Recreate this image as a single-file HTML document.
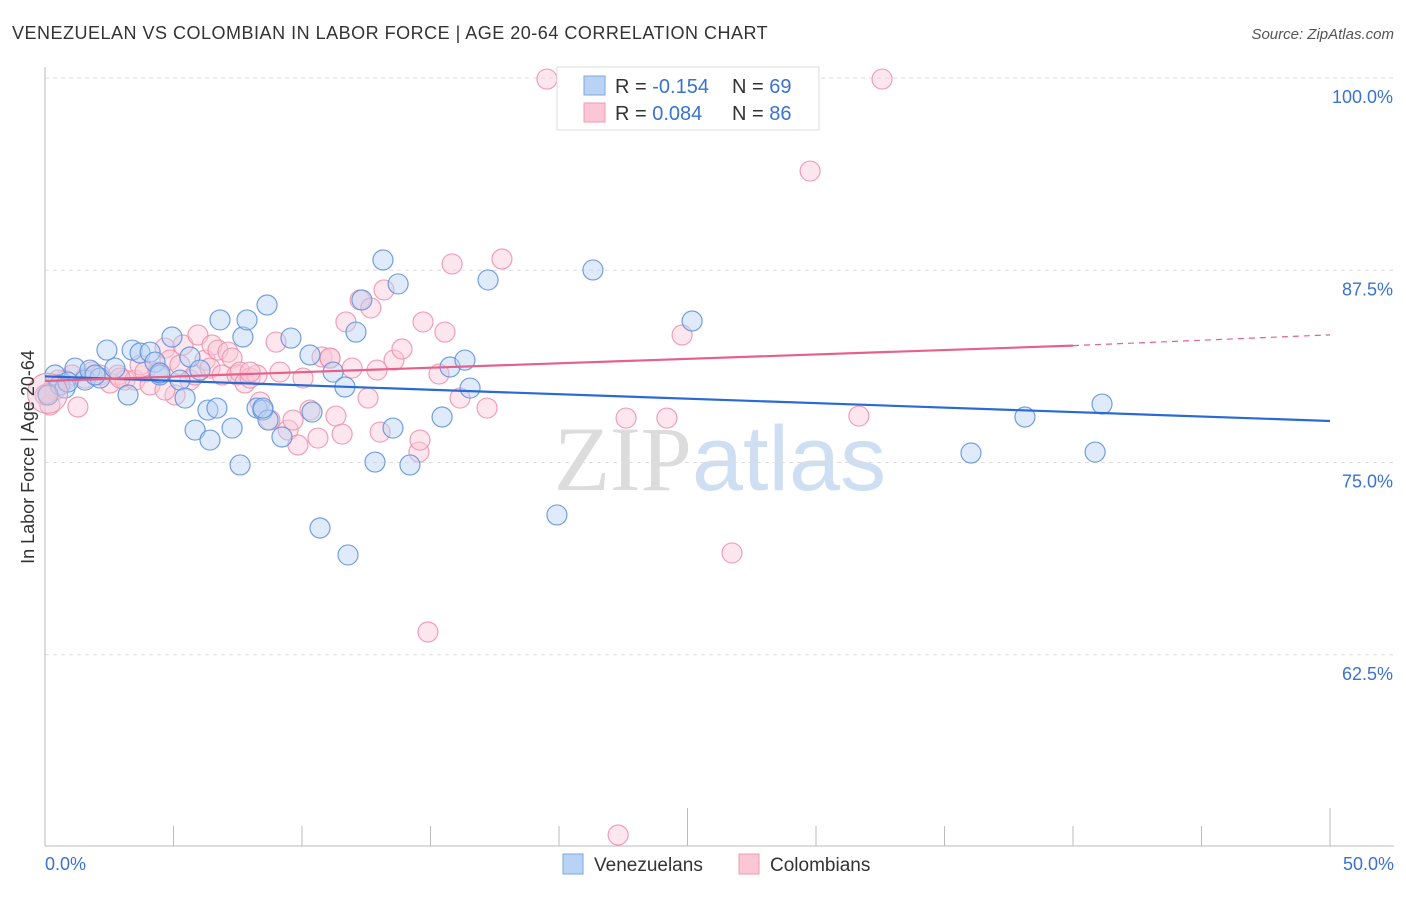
<!DOCTYPE html>
<html><head><meta charset="utf-8">
<style>
body{margin:0;background:#fff;font-family:"Liberation Sans",sans-serif;}
svg text{font-family:"Liberation Sans",sans-serif;}
</style></head>
<body>
<svg id="chart" width="1406" height="892" xmlns="http://www.w3.org/2000/svg">
<text x="12" y="39" font-size="18" fill="#333" letter-spacing="0.5">VENEZUELAN VS COLOMBIAN IN LABOR FORCE | AGE 20-64 CORRELATION CHART</text>
<text x="1394" y="39" font-size="15" fill="#555" text-anchor="end" font-style="italic">Source: ZipAtlas.com</text>
<text x="720" y="490" font-size="92" text-anchor="middle"><tspan fill="#dcdcdc" font-family="Liberation Serif,serif">ZIP</tspan><tspan fill="#cfdff3">atlas</tspan></text>
<g id="grid"></g>
<g id="axes"></g>
<g id="pts"></g>
<g id="trend"></g>
<text transform="translate(34,457) rotate(-90)" font-size="18" fill="#333" text-anchor="middle">In Labor Force | Age 20-64</text>
<g>
<rect x="557" y="67" width="262" height="63" fill="#fff" stroke="#ddd"/>
<rect x="584" y="76" width="21" height="19" fill="#b9d3f4" stroke="#7aa7e6"/>
<text x="615" y="93" font-size="20" fill="#333">R = <tspan fill="#3a72d0">-0.154</tspan></text>
<text x="732" y="93" font-size="20" fill="#333">N = <tspan fill="#3a72d0">69</tspan></text>
<rect x="584" y="103" width="21" height="19" fill="#fbc7d6" stroke="#f09ab4"/>
<text x="615" y="120" font-size="20" fill="#333">R = <tspan fill="#3a72d0"> 0.084</tspan></text>
<text x="732" y="120" font-size="20" fill="#333">N = <tspan fill="#3a72d0">86</tspan></text>
</g>
<g>
<rect x="563" y="854" width="20" height="20" fill="#b9d3f4" stroke="#7aa7e6"/>
<text x="594" y="871" font-size="19" fill="#333">Venezuelans</text>
<rect x="739" y="854" width="20" height="20" fill="#fbc7d6" stroke="#f09ab4"/>
<text x="770" y="871" font-size="19" fill="#333">Colombians</text>
</g>
</svg>
<script>
const xTicks=[0,5,10,15,20,25,30,35,40,45,50];
const yTicks=[100,87.5,75,62.5];
const yTickLabels=["100.0%","87.5%","75.0%","62.5%"];
const venX=[0.39,0.58,0.78,1.17,1.56,1.75,2.14,2.41,2.72,3.23,3.39,3.70,4.09,4.28,4.47,4.94,5.25,5.45,5.64,5.84,6.03,6.34,6.42,6.69,6.81,7.28,7.59,7.70,7.86,8.25,8.48,8.64,8.68,9.22,9.57,10.31,10.39,10.70,11.21,11.67,11.79,12.10,12.33,12.84,13.15,13.54,13.74,14.20,15.45,15.76,16.34,16.54,17.24,19.92,21.32,25.18,36.03,38.13,40.86,41.13,0.12,0.89,1.95,4.47,8.48];
const venY=[80.69,80.04,79.84,81.14,80.36,81.01,80.49,82.31,81.14,79.39,82.31,82.12,82.18,81.53,80.69,83.16,80.36,79.19,81.86,77.11,81.01,78.41,76.46,78.54,84.27,77.24,74.84,83.16,84.27,78.54,78.41,85.24,77.76,76.66,83.09,81.99,78.28,70.74,80.88,79.91,68.99,83.48,85.57,75.03,88.17,77.24,86.61,74.84,77.96,81.21,81.66,79.84,86.87,71.59,87.52,84.20,75.62,77.96,75.68,78.80,79.39,80.23,80.69,80.82,78.54];
const colX=[0.19,0.39,0.78,1.05,1.28,1.56,1.83,2.14,2.53,2.84,3.11,3.50,3.70,3.89,4.09,4.40,4.67,4.86,5.06,5.25,5.37,5.64,5.84,5.95,6.23,6.42,6.50,6.73,6.89,7.12,7.28,7.47,7.59,7.78,7.98,8.25,8.37,8.75,8.99,9.14,9.46,9.65,9.84,10.04,10.31,10.62,10.78,11.09,11.32,11.56,11.71,11.95,12.26,12.57,12.68,12.92,13.04,13.19,13.58,13.89,14.55,14.71,14.90,15.33,15.56,15.84,16.15,17.20,17.78,19.53,22.30,22.61,24.20,24.79,26.73,29.77,31.67,32.57,0.0,0.51,2.92,4.67,7.98,11.09,14.59,0.1];
const colY=[78.74,79.71,80.36,80.69,78.61,80.49,80.88,80.69,80.17,80.69,80.36,80.36,81.34,80.88,80.04,80.88,82.44,81.66,79.39,81.34,82.64,80.36,80.69,83.29,81.66,81.14,82.64,82.31,80.69,82.18,81.79,80.69,80.88,80.17,80.49,80.69,78.93,77.76,82.83,80.88,77.11,77.76,76.14,80.49,78.41,76.59,81.86,81.79,78.02,76.85,84.14,81.14,85.57,79.19,85.05,81.01,76.98,86.22,81.66,82.38,75.68,84.14,63.98,80.75,83.48,87.91,79.19,78.54,88.23,99.93,50.78,77.89,77.89,83.29,69.12,93.95,78.02,99.93,79.39,80.36,80.49,79.71,80.88,81.79,76.46,79.5];
const venTrend=[80.6,77.7];
const colTrend=[80.3,82.6,83.3];
const NS="http://www.w3.org/2000/svg";
const X0=45,X1=1330,Y100=78,PER=15.38;
const sx=v=>X0+(X1-X0)*v/50;
const sy=v=>Y100+(100-v)*PER;
function mk(tag,attrs,parent){const e=document.createElementNS(NS,tag);for(const k in attrs)e.setAttribute(k,attrs[k]);parent.appendChild(e);return e;}
const grid=document.getElementById('grid'),axes=document.getElementById('axes'),pts=document.getElementById('pts'),trend=document.getElementById('trend');
yTicks.forEach((t,i)=>{
 const l=mk('line',{x1:X0,x2:1394,y1:sy(t),y2:sy(t),stroke:'#ddd','stroke-dasharray':'4,4'},grid);
 
 
 const tx=mk('text',{x:1393,y:sy(t)+25,'font-size':18,fill:'#3a72d0','text-anchor':'end'},axes);
 tx.textContent=yTickLabels[i];
 
 
});
mk('line',{x1:X0,x2:X0,y1:67,y2:846,stroke:'#bbb'},axes);
mk('line',{x1:X0,x2:1394,y1:846,y2:846,stroke:'#bbb'},axes);
xTicks.forEach((t,i)=>{
 const long=(t==25||t==50);
 const l=mk('line',{x1:sx(t),x2:sx(t),y1:long?808:826,y2:846,stroke:'#bbb'},axes);
 
 
});
[[0,'0.0%','start',45],[50,'50.0%','end',1394]].forEach(a=>{
 const tx=mk('text',{x:a[3],y:870,'font-size':18,fill:'#3a72d0','text-anchor':a[2]},axes);
 tx.textContent=a[1];
 
 
});
function dots(xs,ys,fill,stroke,name){
 xs.forEach((x,i)=>{
  const c=mk('circle',{cx:sx(x),cy:sy(ys[i]),r:10,fill:fill,'fill-opacity':0.45,stroke:stroke,'stroke-width':1.2,'stroke-opacity':0.85},pts);
  
  
 });
}
dots(colX,colY,'#fbc7d6','#ee8fab','colombian-point');
dots(venX,venY,'#b9d3f4','#5a8fdc','venezuelan-point');
const bigC=mk('circle',{cx:sx(0.1),cy:sy(79.5),r:20,fill:'#e8c5d8','fill-opacity':0.45,stroke:'#ee8fab'},pts);


const vl=mk('line',{x1:sx(0),y1:sy(venTrend[0]),x2:sx(50),y2:sy(venTrend[1]),stroke:'#2a6ad4','stroke-width':2.2},trend);


const cl=mk('line',{x1:sx(0),y1:sy(colTrend[0]),x2:sx(40),y2:sy(colTrend[1]),stroke:'#e6608a','stroke-width':2.2},trend);


const cd=mk('line',{x1:sx(40),y1:sy(colTrend[1]),x2:sx(50),y2:sy(colTrend[2]),stroke:'#e6608a','stroke-width':1.2,'stroke-dasharray':'6,5'},trend);


</script>
</body></html>
